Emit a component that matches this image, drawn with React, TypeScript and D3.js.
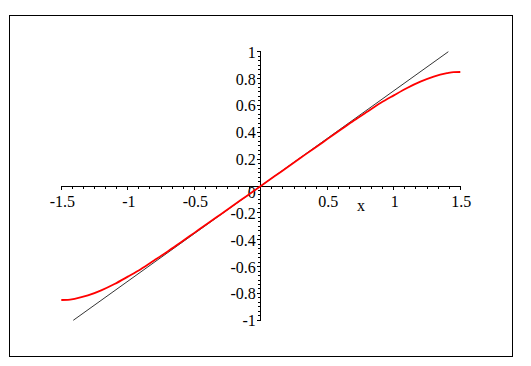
import React from 'react';
import * as d3 from 'd3';

// red curve
const curveX = [-1.5, -1.45, -1.4, -1.3, -1.2, -1.1, -1.0, -0.9, -0.8, -0.7, -0.6, -0.5, -0.4, -0.3, -0.2, -0.1, 0,
  0.1, 0.2, 0.3, 0.4, 0.5, 0.6, 0.7, 0.8, 0.9, 1.0, 1.1, 1.2, 1.3, 1.4, 1.45, 1.5];
const curveY = [-0.849, -0.848, -0.84, -0.815, -0.777, -0.73, -0.675, -0.618, -0.553, -0.487, -0.418, -0.349, -0.28, -0.21, -0.14, -0.07, 0,
  0.07, 0.14, 0.21, 0.28, 0.349, 0.418, 0.487, 0.553, 0.618, 0.675, 0.73, 0.777, 0.815, 0.84, 0.848, 0.849];

// black straight line
const lineX = [-1.41, 1.41];
const lineY = [-1, 1];

const xLabels = [-1.5, -1, -0.5, 0.5, 1, 1.5];
const yLabels = [-1, -0.8, -0.6, -0.4, -0.2, 0.2, 0.4, 0.6, 0.8, 1];

const W = 531;
const H = 366;

export default function App() {
  const x = d3.scaleLinear().domain([-1.5, 1.5]).range([61.3, 460.3]);
  const y = d3.scaleLinear().domain([-1, 1]).range([320.3, 51.7]);

  const xMinor = d3.range(-18, 19).map((i) => i / 12);
  const yMinor = d3.range(-30, 31).map((i) => i / 30);

  const line = d3
    .line<number>()
    .x((_, i) => x(curveX[i]))
    .y((d) => y(d))
    .curve(d3.curveMonotoneX);

  const x0 = x(0);
  const y0 = y(0);
  const font = '"Liberation Serif", "Times New Roman", serif';

  return (
    <svg
      width={W}
      height={H}
      style={{ position: 'absolute', left: 0, top: 0, background: '#fff' }}
    >
      <rect x={9.5} y={15.5} width={503} height={341} fill="none" stroke="#000" />

      <g stroke="#000" shapeRendering="crispEdges">
        <line x1={x(-1.5)} x2={x(1.5)} y1={y0} y2={y0} />
        <line x1={x0} x2={x0} y1={y(1)} y2={y(-1)} />
        {xMinor.map((t, i) => {
          const major = i % 6 === 0;
          return (
            <line key={'xt' + i} x1={x(t)} x2={x(t)} y1={y0} y2={y0 + (major ? 4 : 3)} />
          );
        })}
        {yMinor.map((t, i) => {
          const major = i % 6 === 0;
          return (
            <line key={'yt' + i} x1={x0 - (major ? 4 : 3)} x2={x0} y1={y(t)} y2={y(t)} />
          );
        })}
      </g>

      <g fontFamily={font} fontSize={16} fill="#000">
        {xLabels.map((t) => (
          <text key={'xl' + t} x={x(t) + 1} y={207} textAnchor="middle">
            {t}
          </text>
        ))}
        {yLabels.map((t) => (
          <text key={'yl' + t} x={x0 - 5} y={y(t) + 6} textAnchor="end">
            {t}
          </text>
        ))}
        <text x={x0 - 5} y={198} textAnchor="end">0</text>
        <text x={361} y={211} textAnchor="middle">x</text>
      </g>

      <line
        x1={x(lineX[0])}
        y1={y(lineY[0])}
        x2={x(lineX[1])}
        y2={y(lineY[1])}
        stroke="#000"
        strokeWidth={0.8}
      />
      <path d={line(curveY) || ''} fill="none" stroke="#ff0000" strokeWidth={1.8} />
    </svg>
  );
}
